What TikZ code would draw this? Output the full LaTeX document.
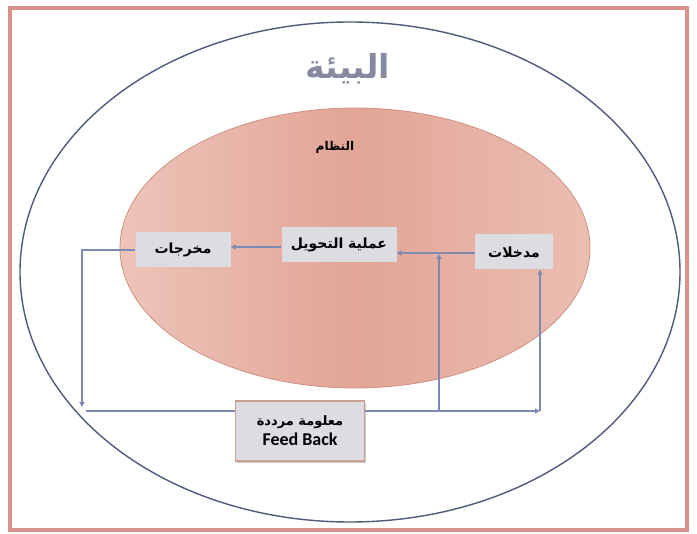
\documentclass[tikz,border=0pt]{standalone}
\usepackage{fontspec}
\usetikzlibrary{shadows,arrows.meta}
\TeXXeTstate=1
\newfontfamily\arabicfont[Script=Arabic,BoldFont={DejaVu Sans Bold}]{DejaVu Sans}
\setmainfont{Carlito}[BoldFont={Carlito Bold}]
\definecolor{framepink}{HTML}{D9918E}
\definecolor{ellline}{HTML}{4F5A7C}
\definecolor{salmonL}{HTML}{EDC4B9}
\definecolor{salmonM}{HTML}{E2A596}
\definecolor{salmonR}{HTML}{EBBEB2}
\definecolor{salmonEdge}{HTML}{CF9283}
\definecolor{boxgray}{HTML}{DCDCE3}
\definecolor{arrowblue}{HTML}{7D8AB1}
\definecolor{titlegray}{HTML}{858AA0}
\definecolor{fbborder}{HTML}{C9A092}
\tikzset{
  procbox/.style={fill=boxgray, inner sep=0pt, font=\arabicfont\bfseries\fontsize{14}{16}\selectfont},
  fbbox/.style={fill=boxgray, draw=fbborder, line width=1.2pt, inner sep=0pt, align=center,
     drop shadow={shadow xshift=1pt, shadow yshift=-2pt, opacity=0.35, fill=black!60}},
  flow/.style={draw=arrowblue, line width=1.6pt, -{Triangle[length=5pt,width=5pt]}},
  plain/.style={draw=arrowblue, line width=1.6pt}
}
\begin{document}
\begin{tikzpicture}[x=1pt,y=-1pt]
\useasboundingbox (0,0) rectangle (697,534);
\fill[white] (0,0) rectangle (697,534);
\draw[framepink, line width=3.5pt] (10,8) rectangle (687,530);
\draw[ellline, line width=1.4pt] (350,272) ellipse [x radius=330, y radius=250];
\shade[left color=salmonL, right color=salmonR, middle color=salmonM] (355,248) ellipse [x radius=235, y radius=140];
\draw[salmonEdge, line width=0.8pt] (355,248) ellipse [x radius=235, y radius=140];
% titles
\node[text=titlegray, font=\arabicfont\bfseries\fontsize{33}{40}\selectfont] (env) at (348,69) {\beginR البيئة\endR};
\node[text=black, font=\arabicfont\bfseries\fontsize{12}{14}\selectfont] (sys) at (335,147) {\beginR النظام\endR};
% boxes
\node[procbox, minimum width=95pt, minimum height=35pt] (out) at (183,250) {\beginR مخرجات\endR};
\node[procbox, minimum width=115pt, minimum height=35pt] (proc) at (339,245) {\beginR عملية التحويل\endR};
\node[procbox, minimum width=78pt, minimum height=35pt] (in) at (514,252) {\beginR مدخلات\endR};
\node[fbbox, minimum width=129pt, minimum height=60pt] (fb) at (300,431)
  {{\arabicfont\bfseries\fontsize{13}{16}\selectfont\beginR معلومة مرددة\endR}\\[3pt]{\bfseries\fontsize{18}{20}\selectfont Feed Back}};
% coordinates
\coordinate (c1) at (82,250);
\coordinate (c2) at (82,407);
\coordinate (c3) at (86,411);
\coordinate (c4) at (540,411);
\coordinate (c5) at (439,411);
\coordinate (c6) at (439,254);
% connectors
\draw[flow] (in.west |- 0,253) -- (proc.east |- 0,253);
\draw[flow] (proc.west |- 0,247) -- (out.east |- 0,247);
\draw[flow] (out.west) -- (c1) -- (c2);
\draw[plain] (c3) -- (fb.west |- c3);
\draw[flow] (fb.east |- c4) -- (c4);
\draw[flow] (c4) -- (in.south -| c4);
\draw[flow] (c5) -- (c6);
\end{tikzpicture}
\end{document}
